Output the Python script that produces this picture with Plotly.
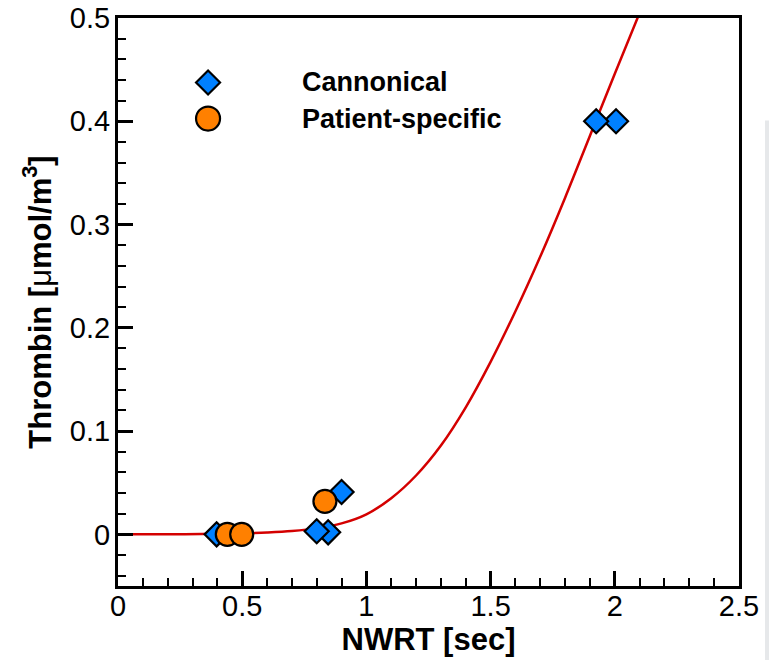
import plotly.graph_objects as go

# Fitted thrombin response curve (sampled)
fit_nwrt = [0.0, 0.2, 0.4, 0.5, 0.6, 0.7, 0.8, 0.9, 1.0, 1.1, 1.2, 1.3,
            1.4, 1.5, 1.6, 1.7, 1.8, 1.9, 2.0, 2.1]
fit_thrombin = [0.0, 0.0001, 0.0005, 0.001, 0.0018, 0.0032, 0.0058, 0.0106,
                0.0194, 0.035, 0.057, 0.086, 0.123, 0.167, 0.216, 0.269,
                0.326, 0.386, 0.446, 0.505]

# Cannonical geometry results
can_nwrt = [2.005, 1.925, 0.90, 0.846, 0.80, 0.397]
can_thrombin = [0.400, 0.400, 0.041, 0.002, 0.003, 0.0]

# Patient-specific geometry results
pat_nwrt = [0.44, 0.498, 0.833]
pat_thrombin = [0.0, 0.0, 0.032]

legend_labels = ["Cannonical", "Patient-specific"]

BLUE = "#0080ff"
ORANGE = "#ff8000"
RED = "#d40000"
FONT = "Liberation Sans, Arial, sans-serif"

fig = go.Figure()
fig.add_trace(go.Scatter(x=fit_nwrt, y=fit_thrombin, mode="lines",
                         line=dict(color=RED, width=2.5, shape="spline", smoothing=1.0),
                         showlegend=False, hoverinfo="skip"))
fig.add_trace(go.Scatter(x=can_nwrt, y=can_thrombin, mode="markers",
                         marker=dict(symbol="diamond", size=18.5, color=BLUE,
                                     line=dict(color="black", width=2.2)),
                         name=legend_labels[0], showlegend=False))
fig.add_trace(go.Scatter(x=pat_nwrt, y=pat_thrombin, mode="markers",
                         marker=dict(symbol="circle", size=23, color=ORANGE,
                                     line=dict(color="black", width=2.2)),
                         name=legend_labels[1], showlegend=False))

# Legend keys and labels
key_x = 0.145
rows_y = [0.8865, 0.823]
fig.add_shape(type="path", xref="paper", yref="paper", xsizemode="pixel", ysizemode="pixel",
              xanchor=key_x, yanchor=rows_y[0],
              path="M -12 0 L 0 12 L 12 0 L 0 -12 Z",
              fillcolor=BLUE, line=dict(color="black", width=2.2))
fig.add_shape(type="circle", xref="paper", yref="paper", xsizemode="pixel", ysizemode="pixel",
              xanchor=key_x, yanchor=rows_y[1], x0=-12, x1=12, y0=-12, y1=12,
              fillcolor=ORANGE, line=dict(color="black", width=2.2))
for label, yy in zip(legend_labels, rows_y):
    fig.add_annotation(text=label, xref="paper", yref="paper", x=0.293, y=yy,
                       xanchor="left", yanchor="middle", showarrow=False,
                       font=dict(family=FONT, size=27, color="black", weight="bold"))

# Light grey strip at the right page edge
fig.add_shape(type="rect", xref="paper", yref="paper",
              x0=(765 - 118) / 621, x1=(775 - 118) / 621,
              y0=-0.2, y1=(586 - 120) / 568.5,
              fillcolor="#e6e8ea", line=dict(width=0), layer="below")

axis_common = dict(
    showgrid=False, zeroline=False, showline=True, linecolor="black", linewidth=3,
    mirror=True, ticks="inside", ticklen=15, tickwidth=2.5, tickcolor="black",
    automargin=False,
    tickfont=dict(family=FONT, size=29, color="black"),
)

fig.update_xaxes(range=[0, 2.5], dtick=0.5, tick0=0, ticklabelstandoff=-8,
                 minor=dict(ticks="inside", ticklen=8, tickwidth=1.5, tickcolor="black", dtick=0.1),
                 title=dict(text="NWRT [sec]", standoff=0,
                            font=dict(family=FONT, size=31, color="black", weight="bold")),
                 **axis_common)
fig.update_yaxes(range=[-0.05, 0.5], dtick=0.1, tick0=0, ticklabelstandoff=-1,
                 minor=dict(ticks="inside", ticklen=8, tickwidth=1.5, tickcolor="black", dtick=0.02),
                 title=dict(text="Thrombin [<span style='font-weight:normal'>μ</span>mol/m<sup>3</sup>]",
                            standoff=10,
                            font=dict(family=FONT, size=31, color="black", weight="bold")),
                 **axis_common)

fig.update_layout(
    width=769, height=660,
    margin=dict(l=118, r=30, t=17.5, b=74, pad=0),
    paper_bgcolor="white", plot_bgcolor="white",
    showlegend=False,
)

fig.write_html("out.html")
